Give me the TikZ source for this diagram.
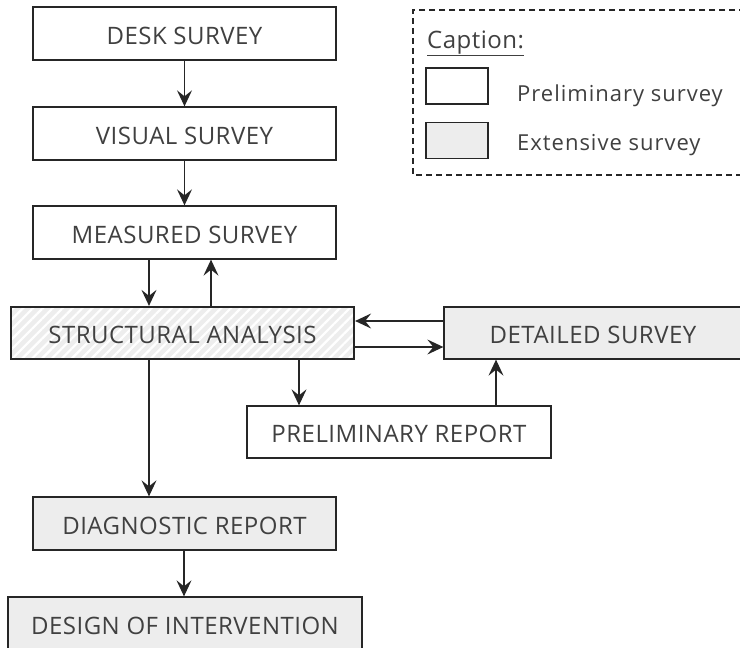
\documentclass[tikz,border=0pt]{standalone}
\usepackage{fontspec}
\setmainfont{Open Sans}
\newfontfamily\mainf[LetterSpace=2]{Open Sans}
\newfontfamily\legf[LetterSpace=4.5]{Open Sans}
\usetikzlibrary{arrows.meta,patterns.meta,calc}
\definecolor{boxgray}{HTML}{EDEDED}
\definecolor{txt}{HTML}{404040}
\definecolor{ln}{HTML}{262626}
\tikzset{
  stepbox/.style={draw=ln, line width=1.3pt, rectangle, inner sep=0pt, text=txt,
    font=\mainf\fontsize{24}{24}\selectfont, text height=21pt, text depth=0pt, minimum height=53pt},
  ext/.style={stepbox, fill=boxgray},
  hatch/.style={stepbox, preaction={fill=boxgray}, pattern={Lines[angle=45,distance=7pt,line width=2.2pt]}, pattern color=white},
  arr/.style={draw=ln, line width=1.3pt, -{Stealth[length=16pt,width=15pt,inset=6pt]}},
  legtxt/.style={text=txt, font=\legf\fontsize{22}{22}\selectfont, anchor=base west, inner sep=0pt},
  legbox/.style={draw=ln, line width=1.3pt, minimum width=62pt, minimum height=36pt, inner sep=0pt},
}
\begin{document}
\begin{tikzpicture}[x=1pt,y=-1pt]
\useasboundingbox (0,0) rectangle (740,648);
\clip (0,0) rectangle (740,648);
\fill[white] (0,0) rectangle (740,648);

% nodes
\node[stepbox, minimum width=303pt] (desk) at (184.5,33.5) {DESK SURVEY};
\node[stepbox, minimum width=303pt] (visual) at (184.5,133.5) {VISUAL SURVEY};
\node[stepbox, minimum width=303pt] (measured) at (184.5,232.5) {MEASURED SURVEY};
\node[hatch, minimum width=343pt, minimum height=52pt] (sa) at (182.5,333) {STRUCTURAL ANALYSIS};
\node[ext, minimum width=298pt, minimum height=52pt] (ds) at (593,333) {DETAILED SURVEY};
\node[stepbox, minimum width=304pt, minimum height=52pt] (pr) at (399,432) {PRELIMINARY REPORT};
\node[ext, minimum width=303pt] (dr) at (184.5,523.5) {DIAGNOSTIC REPORT};
\node[ext, minimum width=354pt] (doi) at (185,623.5) {DESIGN OF INTERVENTION};

% caption
\draw[ln, line width=1.3pt, dash pattern=on 6pt off 4pt] (745,10) -- (413,10) -- (413,175) -- (745,175);
\node[legtxt, font=\mainf\fontsize{24}{24}\selectfont] (cap) at (427,48) {\underline{Caption:}};
\node[legbox] (lw) at (457,86) {};
\node[legbox, fill=boxgray] (lg) at (457,140.5) {};
\node[legtxt] (lwt) at (517,101) {Preliminary survey};
\node[legtxt] (lgt) at (517,150) {Extensive survey};

% helper coordinates
\coordinate (xa) at (149,0);
\coordinate (xb) at (211,0);
\coordinate (xc) at (299,0);
\coordinate (xd) at (496,0);
\coordinate (xe) at (184,0);
\coordinate (ya) at (0,321);
\coordinate (yb) at (0,347);

% connectors
\draw[arr] (desk) -- (visual);
\draw[arr] (visual) -- (measured);
\draw[arr] (measured.south -| xa) -- (sa.north -| xa);
\draw[arr] (sa.north -| xb) -- (measured.south -| xb);
\draw[arr] (ds.west |- ya) -- (sa.east |- ya);
\draw[arr] (sa.east |- yb) -- (ds.west |- yb);
\draw[arr] (sa.south -| xc) -- (pr.north -| xc);
\draw[arr] (pr.north -| xd) -- (ds.south -| xd);
\draw[arr] (sa.south -| xa) -- (dr.north -| xa);
\draw[arr] (dr.south -| xe) -- (doi.north -| xe);
\end{tikzpicture}
\end{document}
